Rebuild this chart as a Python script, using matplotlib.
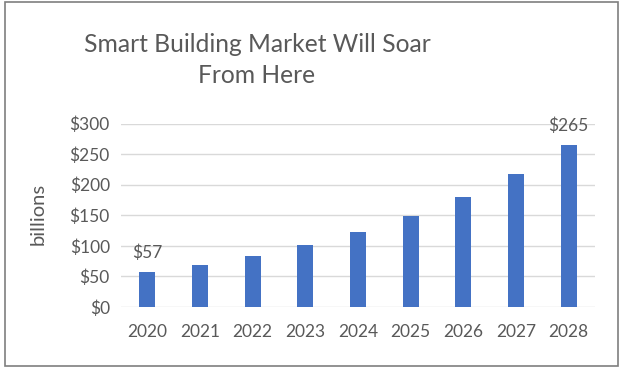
import matplotlib
matplotlib.use("Agg")
import matplotlib.pyplot as plt
from matplotlib.patches import Rectangle

years = ["2020", "2021", "2022", "2023", "2024", "2025", "2026", "2027", "2028"]
market = [57, 68, 83, 101, 122, 148, 180, 218, 265]
y_ticks = [0, 50, 100, 150, 200, 250, 300]
labelled = {0: "$57", 8: "$265"}

BAR = "#4472c4"
TXT = "#595959"
GRID = "#d9d9d9"

plt.rcParams["font.family"] = ["Lato", "DejaVu Sans"]

W, H = 623, 368
fig = plt.figure(figsize=(W / 100, H / 100), dpi=100)

# outer frame
fig.patches.append(Rectangle((5 / W, 1 - 366 / H), 613 / W, 364 / H,
                             transform=fig.transFigure, fill=False,
                             edgecolor="#7f7f7f", linewidth=1.2))

ax = fig.add_axes([121 / W, 1 - 307 / H, 474 / W, 183.5 / H])
x = range(len(years))
ax.bar(x, market, width=0.31, color=BAR, zorder=3)

ax.set_xlim(-0.5, len(years) - 0.5)
ax.set_ylim(0, 300)
ax.set_yticks(y_ticks)
ax.set_yticklabels([f"${v}" for v in y_ticks])
ax.set_xticks(list(x))
ax.set_xticklabels(years)
ax.tick_params(length=0, labelsize=12.5, colors=TXT)
ax.tick_params(axis="x", pad=12)
ax.tick_params(axis="y", pad=8)
ax.grid(axis="y", color=GRID, linewidth=1, zorder=0)
for s in ax.spines.values():
    s.set_visible(False)

for i, txt in labelled.items():
    ax.annotate(txt, (i, market[i]), xytext=(0, 8), textcoords="offset points",
                ha="center", va="bottom", fontsize=12.5, color=TXT)

fig.text(38 / W, 1 - 214 / H, "billions", rotation=90, ha="center", va="center",
         fontsize=14.5, color=TXT)
fig.text(257 / W, 1 - 60 / H, "Smart Building Market Will Soar\nFrom Here",
         ha="center", va="center", fontsize=17.7, color=TXT, linespacing=1.38)

fig.savefig("out.png", dpi=100)
